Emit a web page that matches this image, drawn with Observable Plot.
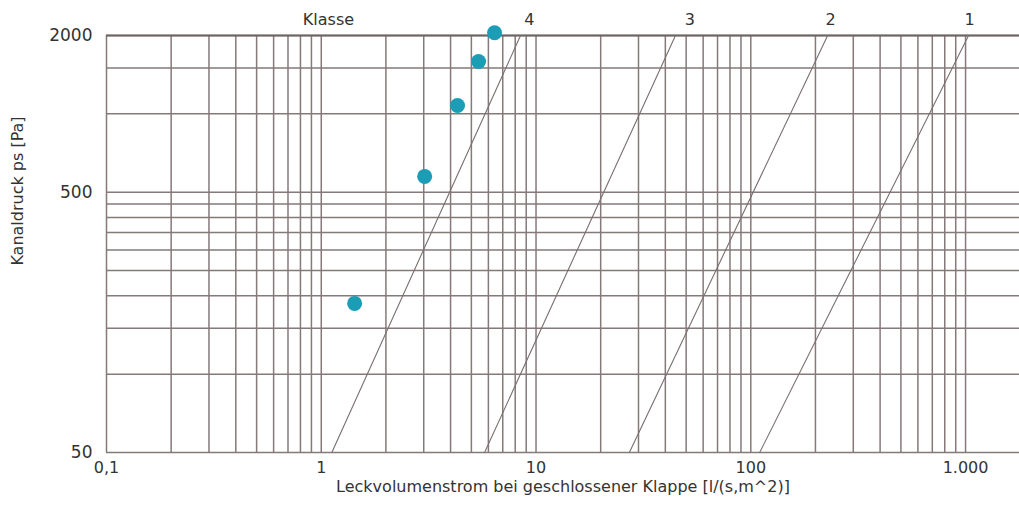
<!DOCTYPE html>
<html>
<head>
<meta charset="utf-8">
<script src="https://cdn.jsdelivr.net/npm/d3@7"></script>
<script src="https://cdn.jsdelivr.net/npm/@observablehq/plot@0.6"></script>
<style>
  html, body { margin: 0; padding: 0; background: #fff; }
  #chart { width: 1019px; height: 510px; }
</style>
</head>
<body>
<div id="chart"></div>
<script>
// ---- data ----
const xGrid = [0.1,0.2,0.3,0.4,0.5,0.6,0.7,0.8,0.9,
               1,2,3,4,5,6,7,8,9,
               10,20,30,40,50,60,70,80,90,
               100,200,300,400,500,600,700,800,900,1000];
const yGrid = [50,100,150,200,250,300,350,400,450,500,1000,1500,2000];
const xTicks = [0.1, 1, 10, 100, 1000];
const xTickLabels = ["0,1", "1", "10", "100", "1.000"];
const yTicks = [50, 500, 2000];

const classNames = ["4", "3", "2", "1"];
const classPressure = [50, 2000];
const classLeakLow = [1.12, 5.76, 27.2, 110];   // leakage at 50 Pa
const classLeakHigh = [8.47, 44.6, 228, 1033];  // leakage at 2000 Pa
const classLabelX = [9.3, 52, 235, 1044];
const headerLabel = "Klasse";
const headerLabelX = 1.08;

const measLeak = [1.43, 3.03, 4.31, 5.40, 6.41];
const measPressure = [187, 575, 1077, 1589, 2050];

const xLabel = "Leckvolumenstrom bei geschlossener Klappe [l/(s,m^2)]";
const yLabel = "Kanaldruck ps [Pa]";

// ---- build tables ----
const classLines = [];
classNames.forEach((c, i) => {
  classLines.push({cls: c, x: classLeakLow[i], y: classPressure[0]});
  classLines.push({cls: c, x: classLeakHigh[i], y: classPressure[1]});
});
const classLabels = classNames.map((c, i) => ({cls: c, x: classLabelX[i], y: 2000}));
const points = measLeak.map((x, i) => ({x, y: measPressure[i]}));

const gridColor = "#85797a";
const textColor = "#333333";

const chart = Plot.plot({
  width: 1019,
  height: 510,
  marginLeft: 106,
  marginRight: 0,
  marginTop: 35,
  marginBottom: 58,
  style: {fontFamily: "'DejaVu Sans', sans-serif", fontSize: "16px", color: textColor, background: "#fff"},
  x: {type: "log", domain: [0.1, 1783]},
  y: {type: "log", domain: [50, 2000]},
  marks: [
    Plot.ruleX(xGrid, {stroke: gridColor, strokeWidth: 1.5}),
    Plot.ruleY(yGrid, {stroke: gridColor, strokeWidth: 1.5}),
    Plot.ruleY([2000], {stroke: "#6f6465", strokeWidth: 2}),
    Plot.line(classLines, {x: "x", y: "y", z: "cls", stroke: "#7a6e70", strokeWidth: 1.1}),
    Plot.dot(points, {x: "x", y: "y", r: 7.5, fill: "#1b9db6", stroke: "none"}),
    Plot.text(classLabels, {x: "x", y: "y", text: "cls", dy: -16, fontSize: 16, fill: textColor}),
    Plot.text([headerLabel], {x: headerLabelX, y: 2000, text: d => d, dy: -16, fontSize: 16, fill: textColor}),
    Plot.axisX({ticks: xTicks, tickFormat: d => xTickLabels[xTicks.indexOf(d)], tickSize: 0, tickPadding: 9, fontSize: 16, label: null, fill: textColor}),
    Plot.axisY({ticks: yTicks, tickFormat: d => String(d), tickSize: 0, tickPadding: 14, fontSize: 17, label: null, fill: textColor}),
    Plot.text([xLabel], {frameAnchor: "bottom", text: d => d, dy: 39, fontSize: 16, fill: textColor}),
    Plot.text([yLabel], {frameAnchor: "left", textAnchor: "middle", text: d => d, rotate: -90, dx: -89, dy: -53, fontSize: 16, fill: textColor})
  ]
});
document.getElementById("chart").appendChild(chart);
</script>
</body>
</html>
